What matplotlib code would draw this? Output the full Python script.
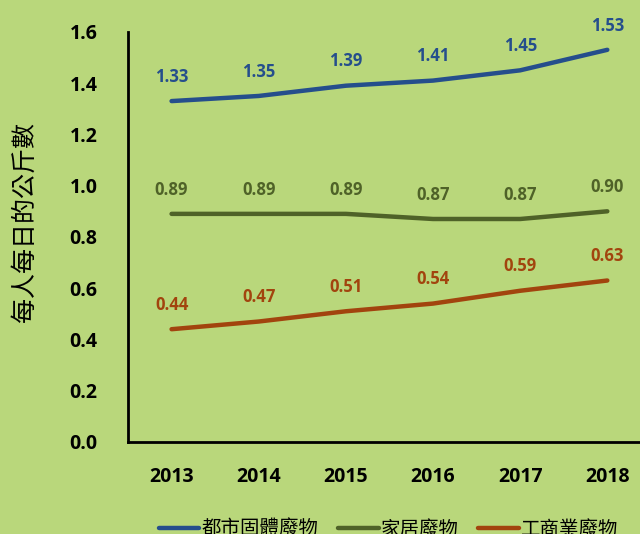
import numpy as np
import matplotlib.pyplot as plt

plt.rcParams['font.family'] = ['Noto Sans CJK TC', 'DejaVu Sans']

# 資料
years = ['2013', '2014', '2015', '2016', '2017', '2018']
msw = [1.33, 1.35, 1.39, 1.41, 1.45, 1.53]        # 都市固體廢物
household = [0.89, 0.89, 0.89, 0.87, 0.87, 0.90]  # 家居廢物
commercial = [0.44, 0.47, 0.51, 0.54, 0.59, 0.63]  # 工商業廢物
series_names = ['都市固體廢物', '家居廢物', '工商業廢物']
colors = ['#254E8C', '#4F6228', '#A2440E']

bg = '#B9D77B'
fig = plt.figure(figsize=(6.4, 5.34), dpi=100, facecolor=bg)
ax = fig.add_axes([0.2, 0.1723, 0.817, 0.768], facecolor=bg)

x = np.arange(len(years))
for vals, name, c in zip([msw, household, commercial], series_names, colors):
    ax.plot(x, vals, color=c, lw=3.2, label=name, solid_capstyle='round')
    for xi, v in zip(x, vals):
        ax.annotate(f"{v:.2f}", (xi, v), xytext=(0, 17.5), textcoords='offset points',
                    ha='center', va='center', color=c, fontsize=12, fontweight='bold',
                    family=['Open Sans', 'DejaVu Sans'])

ax.set_xlim(-0.5, 5.5)
ax.set_ylim(0, 1.6)
ax.set_xticks(x)
ax.set_xticklabels(years)
ax.set_yticks(np.arange(0, 1.61, 0.2))
ax.set_yticklabels([f"{v:.1f}" for v in np.arange(0, 1.61, 0.2)])
for lab in ax.get_xticklabels() + ax.get_yticklabels():
    lab.set_fontweight('bold')
    lab.set_fontsize(14)
    lab.set_family(['Open Sans', 'DejaVu Sans'])
ax.tick_params(axis='y', length=0, pad=22)
ax.tick_params(axis='x', length=0, pad=18)
for s in ['top', 'right']:
    ax.spines[s].set_visible(False)
for s in ['left', 'bottom']:
    ax.spines[s].set_linewidth(2)
    ax.spines[s].set_color('black')

fig.text(0.038, 0.585, '每人每日的公斤數', rotation=90, ha='center', va='center', fontsize=18)

fig.legend(loc='center', bbox_to_anchor=(0.607, 0.008), ncol=3, frameon=False,
           fontsize=14, handlelength=2.1, columnspacing=1.0, handletextpad=0.1)

plt.savefig('out.png', dpi=100, facecolor=bg)
